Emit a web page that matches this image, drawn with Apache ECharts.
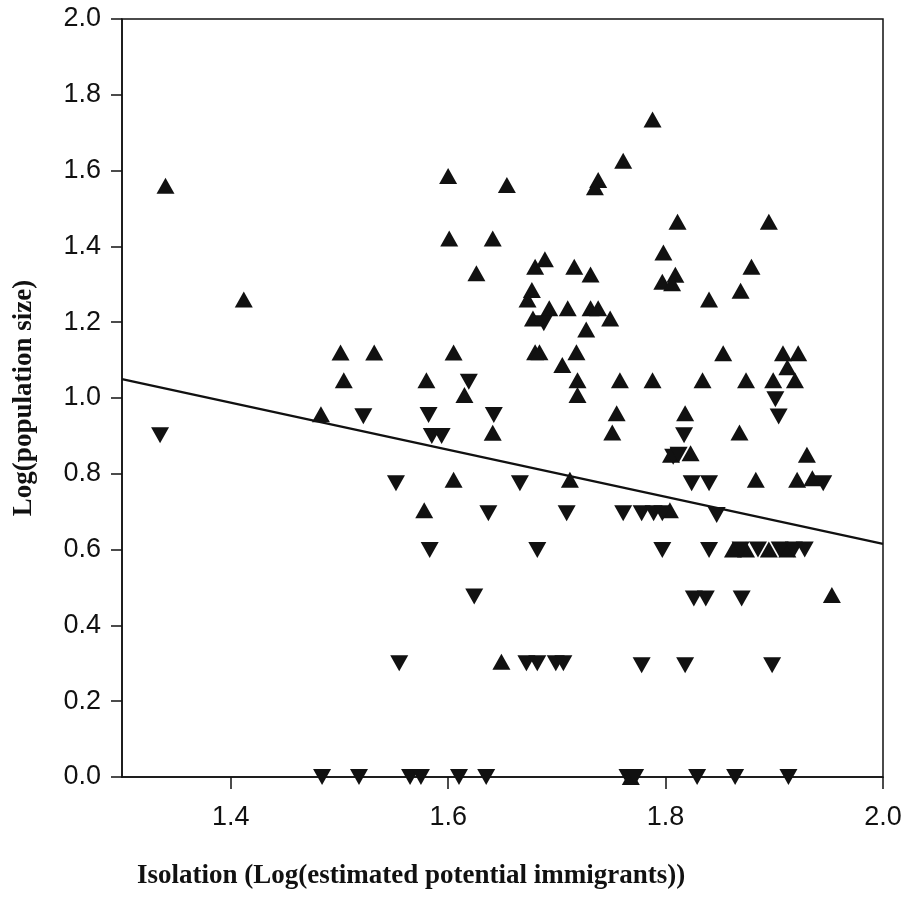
<!DOCTYPE html>
<html>
<head>
<meta charset="utf-8">
<script src="https://cdn.jsdelivr.net/npm/echarts@6/dist/echarts.min.js"></script>
<style>
html,body{margin:0;padding:0;background:#fff;}
#chart{width:905px;height:898px;}
</style>
</head>
<body>
<div id="chart"></div>
<script>
// Populations increasing (up triangles): [isolation, log(population size)]
var upPoints = [
[1.340,1.56],[1.412,1.26],[1.501,1.12],[1.532,1.12],[1.605,1.12],[1.504,1.047],[1.580,1.047],[1.615,1.008],
[1.483,0.957],[1.641,0.908],[1.605,0.784],[1.578,0.704],[1.755,0.96],[1.751,0.909],[1.712,0.784],[1.649,0.304],
[1.768,0.0],[1.818,0.96],[1.868,0.909],[1.805,0.85],[1.823,0.854],[1.930,0.85],[1.883,0.784],[1.921,0.784],
[1.935,0.788],[1.804,0.704],[1.862,0.60],[1.874,0.60],[1.895,0.60],[1.912,0.60],[1.953,0.48],
[1.761,1.626],[1.600,1.586],[1.654,1.562],[1.738,1.575],[1.735,1.556],[1.601,1.421],[1.641,1.421],[1.626,1.329],
[1.680,1.346],[1.689,1.366],[1.716,1.346],[1.731,1.326],[1.677,1.285],[1.673,1.260],[1.678,1.210],[1.693,1.237],
[1.710,1.237],[1.731,1.237],[1.738,1.237],[1.749,1.210],[1.727,1.181],[1.680,1.121],[1.684,1.121],[1.718,1.121],
[1.705,1.087],[1.719,1.047],[1.719,1.008],[1.758,1.047],
[1.788,1.735],[1.811,1.465],[1.895,1.465],[1.798,1.384],[1.879,1.346],[1.797,1.307],[1.809,1.325],[1.806,1.303],
[1.869,1.283],[1.840,1.260],[1.853,1.118],[1.908,1.118],[1.922,1.118],[1.912,1.081],[1.788,1.047],[1.834,1.047],
[1.874,1.047],[1.899,1.047],[1.919,1.047]
];
// Populations decreasing (down triangles)
var downPoints = [
[1.335,0.902],[1.619,1.043],[1.522,0.952],[1.582,0.955],[1.585,0.90],[1.594,0.90],[1.642,0.955],[1.552,0.775],
[1.637,0.696],[1.583,0.599],[1.484,0.0],[1.518,0.0],[1.666,0.775],[1.709,0.696],[1.761,0.696],[1.682,0.599],
[1.624,0.476],[1.555,0.30],[1.672,0.30],[1.682,0.30],[1.699,0.30],[1.706,0.30],[1.565,0.0],[1.575,0.0],
[1.610,0.0],[1.635,0.0],[1.765,0.0],[1.772,0.0],[1.904,0.951],[1.817,0.902],[1.807,0.845],[1.812,0.85],
[1.824,0.775],[1.840,0.775],[1.945,0.775],[1.778,0.696],[1.789,0.696],[1.797,0.696],[1.847,0.691],[1.797,0.599],
[1.840,0.599],[1.869,0.60],[1.885,0.60],[1.905,0.60],[1.918,0.60],[1.928,0.60],[1.826,0.471],[1.837,0.471],
[1.870,0.471],[1.778,0.295],[1.818,0.295],[1.898,0.295],[1.829,0.0],[1.864,0.0],[1.913,0.0],[1.901,0.997],
[1.688,1.197]
];
// Regression line end points
var lineX = [1.3, 2.0];
var lineY = [1.05, 0.615];
var xTicks = [1.4, 1.6, 1.8, 2.0];
var xTitle = 'Isolation (Log(estimated potential immigrants))';
var yTitle = 'Log(population size)';

var chart = echarts.init(document.getElementById('chart'), null, {renderer:'canvas'});
var axisFont = {fontFamily:'Liberation Sans, Arial, sans-serif', fontSize:27, color:'#111'};
var option = {
  animation:false,
  backgroundColor:'#fff',
  grid:{left:122, right:22, top:19, bottom:121, show:true, borderColor:'#111', borderWidth:1.5, backgroundColor:'transparent'},
  xAxis:{
    type:'value', min:1.3, max:2.0,
    axisLine:{show:true, onZero:false, lineStyle:{color:'#111', width:1.5}},
    axisTick:{show:true, inside:false, length:12, customValues:xTicks, lineStyle:{color:'#111', width:1.5}},
    axisLabel:Object.assign({margin:27, customValues:xTicks, formatter:function(v){return Number(v).toFixed(1);}}, axisFont),
    splitLine:{show:false}
  },
  yAxis:{
    type:'value', min:0, max:2.0, interval:0.2,
    axisLine:{show:true, onZero:false, lineStyle:{color:'#111', width:1.5}},
    axisTick:{show:true, inside:false, length:11, lineStyle:{color:'#111', width:1.5}},
    axisLabel:Object.assign({margin:21, formatter:function(v){return Number(v).toFixed(1);}}, axisFont),
    splitLine:{show:false}
  },
  graphic:[
    {type:'text', left:137, top:863, style:{text:xTitle, font:'bold 27px "Liberation Serif", "Times New Roman", serif', fill:'#111'}},
    {type:'text', x:11, y:398, rotation:Math.PI/2, style:{text:yTitle, font:'bold 27px "Liberation Serif", "Times New Roman", serif', fill:'#111', align:'center', verticalAlign:'top'}}
  ],
  series:[
    {type:'line', data:lineX.map(function(x,i){return [x, lineY[i]];}), symbol:'none', lineStyle:{color:'#111', width:2.2}, z:3},
    {type:'scatter', data:upPoints, symbol:'triangle', symbolSize:[18,16], itemStyle:{color:'#111', opacity:1}, z:4},
    {type:'scatter', data:downPoints, symbol:'triangle', symbolRotate:180, symbolSize:[18,16], itemStyle:{color:'#111', opacity:1}, z:4}
  ]
};
chart.setOption(option);
</script>
</body>
</html>
